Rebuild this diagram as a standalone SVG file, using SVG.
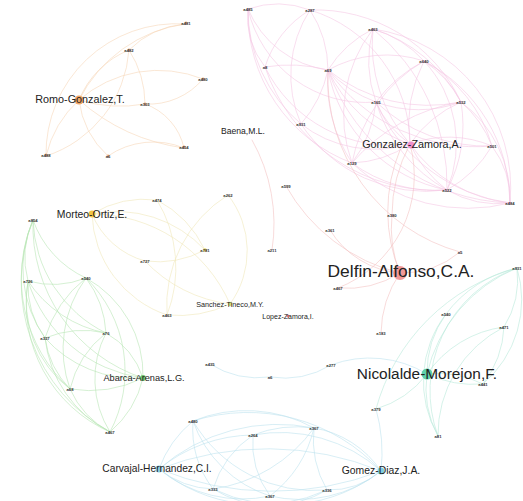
<svg xmlns="http://www.w3.org/2000/svg" width="523" height="501" viewBox="0 0 523 501">
<style>
  .e path{fill:none;stroke-width:0.6;stroke-linecap:round}
  .or path{stroke:#f6d6b8}
  .pk path{stroke:#f5c8e4}
  .rd path{stroke:#f4c2c2}
  .ye path{stroke:#f0e8bb}
  .gr path{stroke:#b9e5b6}
  .tl path{stroke:#b8eada}
  .lb path{stroke:#bde3ee}
  text{font-family:"Liberation Sans",Arial,sans-serif;fill:#222}
  .s{font-size:4.2px;font-weight:bold;text-anchor:middle;fill:#333}
  .L{text-anchor:middle}
</style>

<rect width="523" height="501" fill="#ffffff"/>

<g id="connectors" class="e">
  <!-- orange cluster -->
  <g class="or">
    <path d="M79,100 A90,90 0 0,1 129,50"/>
    <path d="M79,100 A140,140 0 0,0 145,104"/>
    <path d="M79,100 A110,110 0 0,0 46,156"/>
    <path d="M79,100 A90,90 0 0,0 108,156"/>
    <path d="M79,100 A140,140 0 0,1 185,24"/>
    <path d="M79,100 A120,120 0 0,1 203,79"/>
    <path d="M79,100 A200,200 0 0,0 184,148"/>
    <path d="M129,50 A120,120 0 0,1 46,156"/>
    <path d="M129,50 A100,100 0 0,1 145,104"/>
    <path d="M145,104 A70,70 0 0,0 203,79"/>
    <path d="M145,104 A60,60 0 0,1 184,148"/>
    <path d="M108,156 A80,80 0 0,1 184,148"/>
    <path d="M46,156 A130,130 0 0,1 185,24"/>
    <path d="M129,50 A90,90 0 0,1 185,24"/>
  </g>
  <!-- pink cluster -->
  <g class="pk">
    <path d="M248,9 A90,90 0 0,1 310,10"/>
    <path d="M248,9 A150,150 0 0,0 301,124"/>
    <path d="M248,9 A100,100 0 0,0 328,70"/>
    <path d="M248,9 A120,120 0 0,0 376,102"/>
    <path d="M248,9 A160,160 0 0,0 352,163"/>
    <path d="M248,9 A80,80 0 0,0 265,67"/>
    <path d="M310,10 A100,100 0 0,0 265,67"/>
    <path d="M310,10 A110,110 0 0,1 328,70"/>
    <path d="M310,10 A140,140 0 0,1 410,144"/>
    <path d="M310,10 A160,160 0 0,1 461,102"/>
    <path d="M310,10 A120,120 0 0,0 301,124"/>
    <path d="M265,67 A150,150 0 0,1 328,70"/>
    <path d="M265,67 A140,140 0 0,0 410,144"/>
    <path d="M265,67 A180,180 0 0,0 447,190"/>
    <path d="M328,70 A110,110 0 0,1 373,29"/>
    <path d="M328,70 A120,120 0 0,1 424,61"/>
    <path d="M328,70 A120,120 0 0,0 376,102"/>
    <path d="M328,70 A160,160 0 0,0 461,102"/>
    <path d="M328,70 A180,180 0 0,0 492,146"/>
    <path d="M328,70 A200,200 0 0,0 510,203"/>
    <path d="M328,70 A150,150 0 0,0 447,190"/>
    <path d="M328,70 A120,120 0 0,1 301,124"/>
    <path d="M328,70 A150,150 0 0,0 352,163"/>
    <path d="M328,70 A140,140 0 0,0 410,144"/>
    <path d="M373,29 A110,110 0 0,1 424,61"/>
    <path d="M373,29 A120,120 0 0,0 376,102"/>
    <path d="M373,29 A150,150 0 0,1 461,102"/>
    <path d="M373,29 A160,160 0 0,1 510,203"/>
    <path d="M373,29 A140,140 0 0,0 352,163"/>
    <path d="M373,29 A200,200 0 0,1 447,190"/>
    <path d="M373,29 A150,150 0 0,0 410,144"/>
    <path d="M424,61 A140,140 0 0,0 376,102"/>
    <path d="M424,61 A110,110 0 0,1 461,102"/>
    <path d="M424,61 A140,140 0 0,1 492,146"/>
    <path d="M424,61 A150,150 0 0,0 352,163"/>
    <path d="M424,61 A120,120 0 0,1 447,190"/>
    <path d="M424,61 A160,160 0 0,1 510,203"/>
    <path d="M424,61 A140,140 0 0,0 410,144"/>
    <path d="M376,102 A120,120 0 0,0 461,102"/>
    <path d="M376,102 A160,160 0 0,0 492,146"/>
    <path d="M376,102 A170,170 0 0,0 510,203"/>
    <path d="M376,102 A150,150 0 0,0 447,190"/>
    <path d="M376,102 A120,120 0 0,1 352,163"/>
    <path d="M376,102 A100,100 0 0,0 410,144"/>
    <path d="M461,102 A120,120 0 0,1 510,203"/>
    <path d="M461,102 A140,140 0 0,1 447,190"/>
    <path d="M461,102 A110,110 0 0,1 492,146"/>
    <path d="M461,102 A120,120 0 0,0 410,144"/>
    <path d="M461,102 A180,180 0 0,0 352,163"/>
    <path d="M410,144 A140,140 0 0,0 510,203"/>
    <path d="M410,144 A120,120 0 0,0 447,190"/>
    <path d="M410,144 A110,110 0 0,1 492,146"/>
    <path d="M410,144 A110,110 0 0,1 352,163"/>
    <path d="M352,163 A170,170 0 0,0 510,203"/>
    <path d="M352,163 A140,140 0 0,0 447,190"/>
    <path d="M492,146 A120,120 0 0,1 447,190"/>
    <path d="M492,146 A90,90 0 0,1 510,203"/>
    <path d="M447,190 A100,100 0 0,0 510,203"/>
    <path d="M301,124 A150,150 0 0,0 447,190"/>
    <path d="M301,124 A120,120 0 0,0 410,144"/>
  </g>
  <!-- red cluster -->
  <g class="rd">
    <path d="M286,186 A180,180 0 0,0 400,273"/>
    <path d="M330,230 A90,90 0 0,0 400,273"/>
    <path d="M392,215 A120,120 0 0,0 400,273"/>
    <path d="M392,215 A150,150 0 0,1 410,144"/>
    <path d="M460,252 A180,180 0 0,1 328,70"/>
    <path d="M400,273 A100,100 0 0,1 338,288"/>
    <path d="M400,273 A110,110 0 0,0 381,333"/>
    <path d="M400,273 A160,160 0 0,1 400,150"/>
    <path d="M338,288 A120,120 0 0,0 410,144"/>
    <path d="M252,140 A170,170 0 0,1 272,250"/>
    <path d="M460,252 A90,90 0 0,1 400,273"/>
  </g>
  <!-- yellow cluster -->
  <g class="ye">
    <path d="M92,214 A100,100 0 0,1 157,200"/>
    <path d="M92,214 A120,120 0 0,1 205,250"/>
    <path d="M92,214 A150,150 0 0,1 230,304"/>
    <path d="M92,214 A110,110 0 0,0 167,315"/>
    <path d="M92,214 A80,80 0 0,0 145,261"/>
    <path d="M157,200 A110,110 0 0,1 205,250"/>
    <path d="M157,200 A130,130 0 0,1 167,315"/>
    <path d="M228,195 A90,90 0 0,1 230,304"/>
    <path d="M228,195 A130,130 0 0,0 167,315"/>
    <path d="M145,261 A100,100 0 0,0 205,250"/>
    <path d="M145,261 A140,140 0 0,0 230,304"/>
    <path d="M167,315 A120,120 0 0,0 230,304"/>
  </g>
  <!-- green cluster -->
  <g class="gr">
    <path d="M33,220 A90,90 0 0,0 28,281"/>
    <path d="M33,220 A100,100 0 0,0 86,278"/>
    <path d="M33,220 A130,130 0 0,0 106,333"/>
    <path d="M33,220 A120,120 0 0,0 45,338"/>
    <path d="M33,220 A150,150 0 0,0 70,389"/>
    <path d="M33,220 A170,170 0 0,0 110,432"/>
    <path d="M33,220 A160,160 0 0,0 143,378"/>
    <path d="M28,281 A90,90 0 0,0 86,278"/>
    <path d="M28,281 A120,120 0 0,0 106,333"/>
    <path d="M28,281 A90,90 0 0,0 45,338"/>
    <path d="M28,281 A110,110 0 0,0 70,389"/>
    <path d="M28,281 A140,140 0 0,0 110,432"/>
    <path d="M28,281 A140,140 0 0,0 143,378"/>
    <path d="M86,278 A100,100 0 0,1 106,333"/>
    <path d="M86,278 A120,120 0 0,0 45,338"/>
    <path d="M86,278 A120,120 0 0,0 70,389"/>
    <path d="M86,278 A130,130 0 0,1 110,432"/>
    <path d="M86,278 A110,110 0 0,1 143,378"/>
    <path d="M106,333 A100,100 0 0,0 45,338"/>
    <path d="M106,333 A100,100 0 0,0 70,389"/>
    <path d="M106,333 A100,100 0 0,0 110,432"/>
    <path d="M106,333 A80,80 0 0,1 143,378"/>
    <path d="M45,338 A90,90 0 0,0 70,389"/>
    <path d="M45,338 A120,120 0 0,0 110,432"/>
    <path d="M45,338 A120,120 0 0,0 143,378"/>
    <path d="M70,389 A90,90 0 0,0 110,432"/>
    <path d="M70,389 A120,120 0 0,0 143,378"/>
    <path d="M110,432 A100,100 0 0,0 143,378"/>
  </g>
  <!-- teal cluster -->
  <g class="tl">
    <path d="M427,374 A150,150 0 0,1 517,268"/>
    <path d="M427,374 A100,100 0 0,1 446,314"/>
    <path d="M427,374 A110,110 0 0,1 504,327"/>
    <path d="M427,374 A110,110 0 0,0 483,384"/>
    <path d="M427,374 A100,100 0 0,1 376,409"/>
    <path d="M427,374 A100,100 0 0,0 438,436"/>
    <path d="M517,268 A130,130 0 0,0 438,436"/>
    <path d="M517,268 A120,120 0 0,0 446,314"/>
    <path d="M517,268 A110,110 0 0,1 483,384"/>
    <path d="M517,268 A90,90 0 0,1 504,327"/>
    <path d="M504,327 A120,120 0 0,0 438,436"/>
    <path d="M504,327 A100,100 0 0,1 483,384"/>
    <path d="M446,314 A110,110 0 0,0 438,436"/>
    <path d="M483,384 A100,100 0 0,0 427,374"/>
    <path d="M517,268 A200,200 0 0,0 376,409"/>
  </g>
  <!-- light blue cluster -->
  <g class="lb">
    <path d="M210,364 A90,90 0 0,0 270,377"/>
    <path d="M270,377 A90,90 0 0,0 331,365"/>
    <path d="M331,365 A110,110 0 0,1 427,374"/>
    <path d="M159,469 A110,110 0 0,1 193,421"/>
    <path d="M159,469 A150,150 0 0,1 253,435"/>
    <path d="M159,469 A180,180 0 0,1 314,428"/>
    <path d="M159,469 A90,90 0 0,0 213,489"/>
    <path d="M159,469 A130,130 0 0,0 270,496"/>
    <path d="M159,469 A160,160 0 0,0 327,490"/>
    <path d="M159,469 A300,300 0 0,0 381,471"/>
    <path d="M159,469 A300,300 0 0,1 381,471"/>
    <path d="M381,471 A100,100 0 0,0 314,428"/>
    <path d="M381,471 A150,150 0 0,0 253,435"/>
    <path d="M381,471 A180,180 0 0,0 193,421"/>
    <path d="M381,471 A80,80 0 0,1 327,490"/>
    <path d="M381,471 A130,130 0 0,1 270,496"/>
    <path d="M381,471 A160,160 0 0,1 213,489"/>
    <path d="M193,421 A140,140 0 0,1 314,428"/>
    <path d="M193,421 A120,120 0 0,0 270,496"/>
    <path d="M193,421 A140,140 0 0,0 327,490"/>
    <path d="M193,421 A100,100 0 0,0 213,489"/>
    <path d="M253,435 A120,120 0 0,1 314,428"/>
    <path d="M253,435 A100,100 0 0,0 213,489"/>
    <path d="M253,435 A90,90 0 0,0 270,496"/>
    <path d="M314,428 A100,100 0 0,0 327,490"/>
    <path d="M314,428 A120,120 0 0,1 270,496"/>
    <path d="M314,428 A150,150 0 0,1 213,489"/>
    <path d="M213,489 A110,110 0 0,0 327,490"/>
    <path d="M381,471 A160,160 0 0,0 376,409"/>
  </g>
</g>

<!-- orange cluster nodes -->
<g id="romo-gonzalez"><circle cx="79" cy="100" r="4.5" fill="#f2a766"/><text class="L" x="80" y="103" style="font-size:10.8px">Romo-Gonzalez,T.</text></g>
<g id="n-a481"><circle cx="186" cy="23" r="1.4" fill="#f2b88a"/><text class="s" x="186" y="25">a481</text></g>
<g id="n-a482"><circle cx="129" cy="50" r="1.4" fill="#f2b88a"/><text class="s" x="129" y="52">a482</text></g>
<g id="n-a480"><circle cx="203" cy="79" r="1.4" fill="#f2b88a"/><text class="s" x="203" y="81">a480</text></g>
<g id="n-a303"><circle cx="145" cy="104" r="1.4" fill="#f2b88a"/><text class="s" x="145" y="106">a303</text></g>
<g id="n-a454"><circle cx="184" cy="147" r="1.4" fill="#f2b88a"/><text class="s" x="184" y="149">a454</text></g>
<g id="n-a488"><circle cx="46" cy="155" r="1.4" fill="#f2b88a"/><text class="s" x="46" y="157">a488</text></g>
<g id="n-a6o"><circle cx="108" cy="156" r="1.4" fill="#f2b88a"/><text class="s" x="108" y="158">a6</text></g>

<!-- pink cluster nodes -->
<g id="gonzalez-zamora"><circle cx="411" cy="145" r="3.5" fill="#ef8fcb"/><text class="L" x="412" y="148" style="font-size:10.8px">Gonzalez-Zamora,A.</text></g>
<g id="n-a485"><text class="s" x="248" y="11">a485</text></g>
<g id="n-a287"><text class="s" x="310" y="12">a287</text></g>
<g id="n-a463p"><text class="s" x="373" y="31">a463</text></g>
<g id="n-a8"><text class="s" x="265" y="69">a8</text></g>
<g id="n-a69"><text class="s" x="328" y="72">a69</text></g>
<g id="n-a640"><text class="s" x="424" y="63">a640</text></g>
<g id="n-a165"><text class="s" x="376" y="104">a165</text></g>
<g id="n-a532"><text class="s" x="461" y="104">a532</text></g>
<g id="n-a931p"><text class="s" x="301" y="126">a931</text></g>
<g id="n-a129"><text class="s" x="352" y="165">a129</text></g>
<g id="n-a501"><text class="s" x="492" y="148">a501</text></g>
<g id="n-a522"><text class="s" x="447" y="192">a522</text></g>
<g id="n-a484"><text class="s" x="510" y="205">a484</text></g>
<g id="baena"><text class="L" x="243" y="134" style="font-size:8.6px">Baena,M.L.</text></g>

<!-- red cluster nodes -->
<g id="delfin-alfonso"><circle cx="400" cy="273" r="7" fill="#f19a9a"/><text class="L" x="401" y="277" style="font-size:17.4px">Delfin-Alfonso,C.A.</text></g>
<g id="n-a599"><text class="s" x="286" y="188">a599</text></g>
<g id="n-a361"><text class="s" x="330" y="232">a361</text></g>
<g id="n-a380"><text class="s" x="392" y="217">a380</text></g>
<g id="n-a5"><text class="s" x="460" y="254">a5</text></g>
<g id="n-a211"><text class="s" x="272" y="252">a211</text></g>
<g id="n-a467r"><text class="s" x="338" y="290">a467</text></g>
<g id="n-a183"><text class="s" x="381" y="335">a183</text></g>
<g id="lopez-zamora"><circle cx="288" cy="316" r="1.5" fill="#e07a7a"/><text class="L" x="288" y="318.5" style="font-size:7px">Lopez-Zamora,I.</text></g>

<!-- yellow cluster nodes -->
<g id="morteo-ortiz"><circle cx="92" cy="214" r="3.5" fill="#f2c542"/><text class="L" x="92" y="217.5" style="font-size:10.4px">Morteo-Ortiz,E.</text></g>
<g id="n-a474"><text class="s" x="157" y="202">a474</text></g>
<g id="n-a262"><text class="s" x="228" y="197">a262</text></g>
<g id="n-a727"><text class="s" x="145" y="263">a727</text></g>
<g id="n-a781"><circle cx="205" cy="250" r="1.8" fill="#e8d860"/><text class="s" x="205" y="252">a781</text></g>
<g id="n-a463y"><text class="s" x="167" y="317">a463</text></g>
<g id="sanchez-tineco"><circle cx="230" cy="304" r="2.2" fill="#d8e27a"/><text class="L" x="230" y="306.5" style="font-size:7.2px">Sanchez-Tineco,M.Y.</text></g>

<!-- green cluster nodes -->
<g id="abarca-arenas"><circle cx="143" cy="378" r="3" fill="#6fc46f"/><text class="L" x="144" y="381" style="font-size:9.2px">Abarca-Arenas,L.G.</text></g>
<g id="n-a854"><text class="s" x="33" y="222">a854</text></g>
<g id="n-a726"><text class="s" x="28" y="283">a726</text></g>
<g id="n-a540g"><text class="s" x="86" y="280">a540</text></g>
<g id="n-a76"><text class="s" x="106" y="335">a76</text></g>
<g id="n-a337"><text class="s" x="45" y="340">a337</text></g>
<g id="n-a68"><text class="s" x="70" y="391">a68</text></g>
<g id="n-a467g"><text class="s" x="110" y="434">a467</text></g>

<!-- teal cluster nodes -->
<g id="nicolalde-morejon"><circle cx="427" cy="374" r="5.5" fill="#5fd0ab"/><text class="L" x="427" y="378.5" style="font-size:15.4px">Nicolalde-Morejon,F.</text></g>
<g id="n-a931t"><text class="s" x="517" y="270">a931</text></g>
<g id="n-a540t"><text class="s" x="446" y="316">a540</text></g>
<g id="n-a471"><text class="s" x="504" y="329">a471</text></g>
<g id="n-a441"><text class="s" x="483" y="386">a441</text></g>
<g id="n-a379"><text class="s" x="376" y="411">a379</text></g>
<g id="n-a81"><text class="s" x="438" y="438">a81</text></g>

<!-- light blue cluster nodes -->
<g id="carvajal-hernandez"><circle cx="159" cy="469" r="3.5" fill="#8fcfe6"/><text class="L" x="157" y="472" style="font-size:10.2px">Carvajal-Hernandez,C.I.</text></g>
<g id="gomez-diaz"><circle cx="381" cy="471" r="3.5" fill="#7fcde0"/><text class="L" x="381" y="474" style="font-size:10.4px">Gomez-Diaz,J.A.</text></g>
<g id="n-a435"><text class="s" x="210" y="366">a435</text></g>
<g id="n-a6b"><text class="s" x="270" y="379">a6</text></g>
<g id="n-a277"><text class="s" x="331" y="367">a277</text></g>
<g id="n-a480b"><text class="s" x="193" y="423">a480</text></g>
<g id="n-a264"><text class="s" x="253" y="437">a264</text></g>
<g id="n-a367"><text class="s" x="314" y="430">a367</text></g>
<g id="n-a333"><text class="s" x="213" y="491">a333</text></g>
<g id="n-a367b"><text class="s" x="270" y="498">a367</text></g>
<g id="n-a336"><text class="s" x="327" y="492">a336</text></g>
</svg>
